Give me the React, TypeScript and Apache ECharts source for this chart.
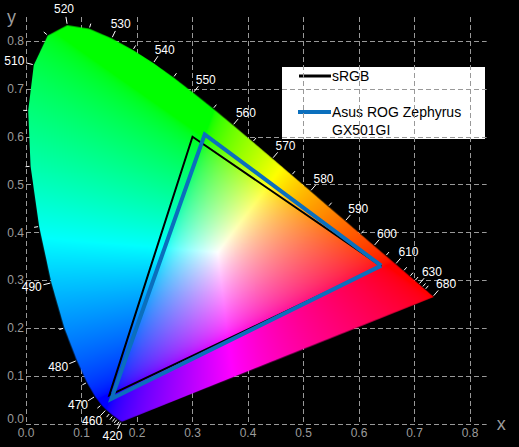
import React, { useEffect, useRef } from 'react';
import * as echarts from 'echarts';

// CIE 1931 2° spectral locus (chromaticity x, y) every 5 nm
const WAVELENGTHS = [
  380, 385, 390, 395, 400, 405, 410, 415, 420, 425, 430, 435, 440, 445, 450, 455, 460, 465, 470, 475,
  480, 485, 490, 495, 500, 505, 510, 515, 520, 525, 530, 535, 540, 545, 550, 555, 560, 565, 570, 575,
  580, 585, 590, 595, 600, 605, 610, 615, 620, 625, 630, 635, 640, 645, 650, 655, 660, 665, 670, 675,
  680, 685, 690, 695, 700,
];
const LOCUS_X = [
  0.1741, 0.1740, 0.1738, 0.1736, 0.1733, 0.1730, 0.1726, 0.1721, 0.1714, 0.1703, 0.1689, 0.1669, 0.1644, 0.1611, 0.1566, 0.1510, 0.1440, 0.1355, 0.1241, 0.1096,
  0.0913, 0.0687, 0.0454, 0.0235, 0.0082, 0.0039, 0.0139, 0.0389, 0.0743, 0.1142, 0.1547, 0.1929, 0.2296, 0.2658, 0.3016, 0.3373, 0.3731, 0.4087, 0.4441, 0.4788,
  0.5125, 0.5448, 0.5752, 0.6029, 0.6270, 0.6482, 0.6658, 0.6801, 0.6915, 0.7006, 0.7079, 0.7140, 0.7190, 0.7230, 0.7260, 0.7283, 0.7300, 0.7311, 0.7320, 0.7327,
  0.7334, 0.7340, 0.7344, 0.7346, 0.7347,
];
const LOCUS_Y = [
  0.0050, 0.0050, 0.0049, 0.0049, 0.0048, 0.0048, 0.0048, 0.0048, 0.0051, 0.0058, 0.0069, 0.0086, 0.0109, 0.0138, 0.0177, 0.0227, 0.0297, 0.0399, 0.0578, 0.0868,
  0.1327, 0.2007, 0.2950, 0.4127, 0.5384, 0.6548, 0.7502, 0.8120, 0.8338, 0.8262, 0.8059, 0.7816, 0.7543, 0.7243, 0.6923, 0.6589, 0.6245, 0.5896, 0.5547, 0.5202,
  0.4866, 0.4544, 0.4242, 0.3965, 0.3725, 0.3514, 0.3340, 0.3197, 0.3083, 0.2993, 0.2920, 0.2859, 0.2809, 0.2770, 0.2740, 0.2717, 0.2700, 0.2689, 0.2680, 0.2673,
  0.2666, 0.2660, 0.2656, 0.2654, 0.2653,
];
const LABELED_WAVELENGTHS = [420, 460, 470, 480, 490, 510, 520, 530, 540, 550, 560, 570, 580, 590, 600, 610, 630, 680];
const TICK_WAVELENGTHS = [
  420, 430, 440, 445, 450, 455, 460, 465, 470, 475, 480, 485, 490, 495, 500, 505, 510, 515, 520, 525,
  530, 535, 540, 545, 550, 555, 560, 565, 570, 575, 580, 585, 590, 595, 600, 605, 610, 615, 620, 625,
  630, 635, 640, 680,
];

// Gamut triangles: red, green, blue primaries
const SRGB_X = [0.64, 0.30, 0.15];
const SRGB_Y = [0.33, 0.60, 0.06];
const ASUS_X = [0.640, 0.322, 0.154];
const ASUS_Y = [0.331, 0.605, 0.053];

const SERIES_NAMES = ['sRGB', 'Asus ROG Zephyrus GX501GI'];

const X_MAX = 0.83;
const Y_MAX = 0.85;
const IMG_X_MAX = 0.75;
const IMG_Y_MAX = 0.85;

function closed(xs: number[], ys: number[]) {
  const pts = xs.map((x, i) => [x, ys[i]]);
  pts.push([xs[0], ys[0]]);
  return pts;
}

function encode(c: number) {
  return Math.pow(c, 1 / 1.8);
}

function buildGamutImage(): string {
  const w = 840;
  const h = 820;
  const cv = document.createElement('canvas');
  cv.width = w;
  cv.height = h;
  const ctx = cv.getContext('2d')!;
  const img = ctx.createImageData(w, h);
  const d = img.data;
  for (let j = 0; j < h; j++) {
    const y = IMG_Y_MAX * (1 - (j + 0.5) / h);
    for (let i = 0; i < w; i++) {
      const x = IMG_X_MAX * ((i + 0.5) / w);
      const X = x / y;
      const Y = 1;
      const Z = (1 - x - y) / y;
      // XYZ (D50-adapted) -> linear sRGB
      let r = 3.1338561 * X - 1.6168667 * Y - 0.4906146 * Z;
      let g = -0.9787684 * X + 1.9161415 * Y + 0.033454 * Z;
      let b = 0.0719453 * X - 0.2289914 * Y + 1.4052427 * Z;
      r = Math.max(0, r);
      g = Math.max(0, g);
      b = Math.max(0, b);
      const m = Math.max(r, g, b) || 1;
      const k = (j * w + i) * 4;
      d[k] = Math.round(255 * encode(r / m));
      d[k + 1] = Math.round(255 * encode(g / m));
      d[k + 2] = Math.round(255 * encode(b / m));
      d[k + 3] = 255;
    }
  }
  ctx.putImageData(img, 0, 0);
  ctx.globalCompositeOperation = 'destination-in';
  ctx.beginPath();
  LOCUS_X.forEach((lx, k) => {
    const px = (lx / IMG_X_MAX) * w;
    const py = (1 - LOCUS_Y[k] / IMG_Y_MAX) * h;
    if (k === 0) ctx.moveTo(px, py);
    else ctx.lineTo(px, py);
  });
  ctx.closePath();
  ctx.fillStyle = '#000';
  ctx.fill();
  return cv.toDataURL();
}

const FONT = '"Liberation Sans", Arial, sans-serif';
const AXIS_GRAY = '#9c9c9c';

export default function App() {
  const ref = useRef<HTMLDivElement>(null);

  useEffect(() => {
    document.body.style.margin = '0';
    document.body.style.background = '#000';
    if (!ref.current) return;
    const chart = echarts.init(ref.current, null, { renderer: 'svg' });
    const imageUrl = buildGamutImage();

    const n = WAVELENGTHS.length;
    const tickData = TICK_WAVELENGTHS.map((wl) => {
      const k = WAVELENGTHS.indexOf(wl);
      const a = Math.max(0, k - 1);
      const b = Math.min(n - 1, k + 1);
      return [LOCUS_X[k], LOCUS_Y[k], LOCUS_X[a], LOCUS_Y[a], LOCUS_X[b], LOCUS_Y[b], wl];
    });

    const gridLine = { show: true, showMaxLine: false, lineStyle: { color: '#999999', type: [5, 3] as any, width: 1 } };

    chart.setOption({
      animation: false,
      backgroundColor: '#000',
      grid: { left: 26, top: 17, width: X_MAX * 555, height: Y_MAX * 479 },
      xAxis: {
        type: 'value',
        min: 0,
        max: X_MAX,
        interval: 0.1,
        name: 'x',
        nameLocation: 'end',
        nameGap: 10,
        nameTextStyle: { color: AXIS_GRAY, fontSize: 18, fontFamily: FONT, padding: [8, 0, 0, 0] },
        axisLine: { show: false },
        axisTick: { show: false },
        splitLine: gridLine,
        axisLabel: {
          color: AXIS_GRAY,
          fontSize: 12,
          fontFamily: FONT,
          margin: 3,
          showMaxLabel: false,
          formatter: (v: number) => v.toFixed(1),
        },
      },
      yAxis: {
        type: 'value',
        min: 0,
        max: Y_MAX,
        interval: 0.1,
        name: 'y',
        nameLocation: 'end',
        nameGap: 0,
        nameTextStyle: { color: AXIS_GRAY, fontSize: 18, fontFamily: FONT, align: 'right', verticalAlign: 'middle', padding: [0, 10, 0, 0] },
        axisLine: { show: false },
        axisTick: { show: false },
        splitLine: gridLine,
        axisLabel: {
          color: AXIS_GRAY,
          fontSize: 12,
          fontFamily: FONT,
          margin: 2,
          showMaxLabel: false,
          formatter: (v: number) => (v === 0 ? '{low|0.0}' : v.toFixed(1)),
          rich: { low: { color: AXIS_GRAY, fontSize: 12, fontFamily: FONT, padding: [0, 0, 10, 0] } },
        },
      },
      series: [
        {
          type: 'custom',
          name: 'locus',
          silent: true,
          z: 1,
          clip: false,
          data: [[0, IMG_Y_MAX]],
          renderItem: (_p: any, api: any) => {
            const tl = api.coord([0, IMG_Y_MAX]);
            const br = api.coord([IMG_X_MAX, 0]);
            return {
              type: 'image',
              style: { image: imageUrl, x: tl[0], y: tl[1], width: br[0] - tl[0], height: br[1] - tl[1] },
            };
          },
        },
        {
          type: 'custom',
          name: 'wavelengths',
          silent: true,
          z: 2,
          clip: false,
          data: tickData,
          renderItem: (_p: any, api: any) => {
            const p = api.coord([api.value(0), api.value(1)]);
            const a = api.coord([api.value(2), api.value(3)]);
            const b = api.coord([api.value(4), api.value(5)]);
            const wl = api.value(6);
            let tx = b[0] - a[0];
            let ty = b[1] - a[1];
            const len = Math.hypot(tx, ty) || 1;
            tx /= len;
            ty /= len;
            const nx = ty;
            const ny = -tx;
            const labeled = LABELED_WAVELENGTHS.indexOf(wl) >= 0;
            const L = labeled ? 8 : 5;
            const children: any[] = [
              {
                type: 'line',
                shape: { x1: p[0] + nx, y1: p[1] + ny, x2: p[0] + nx * L, y2: p[1] + ny * L },
                style: { stroke: '#fff', lineWidth: 1 },
              },
            ];
            if (labeled) {
              children.push({
                type: 'text',
                x: p[0] + nx * L + nx * 12,
                y: p[1] + ny * L + ny * 8,
                style: {
                  text: String(wl),
                  fill: '#fff',
                  font: `12px ${FONT}`,
                  align: 'center',
                  verticalAlign: 'middle',
                },
              });
            }
            return { type: 'group', children };
          },
        },
        {
          type: 'line',
          name: SERIES_NAMES[0],
          data: closed(SRGB_X, SRGB_Y),
          symbol: 'none',
          z: 3,
          lineStyle: { color: '#000', width: 2, join: 'miter' },
        },
        {
          type: 'line',
          name: SERIES_NAMES[1],
          data: closed(ASUS_X, ASUS_Y),
          symbol: 'none',
          z: 4,
          lineStyle: { color: '#0b6fbd', width: 4, join: 'miter' },
        },
      ],
      graphic: [
        {
          type: 'group',
          left: 282,
          top: 67,
          z: 100,
          children: [
            { type: 'rect', shape: { x: 0, y: 0, width: 203, height: 72 }, style: { fill: '#fff' } },
            { type: 'line', shape: { x1: 17, y1: 9, x2: 49, y2: 9 }, style: { stroke: '#000', lineWidth: 3 } },
            {
              type: 'text',
              x: 50,
              y: 9,
              style: { text: SERIES_NAMES[0], fill: '#000', font: `14px ${FONT}`, verticalAlign: 'middle' },
            },
            { type: 'line', shape: { x1: 16, y1: 45, x2: 49, y2: 45 }, style: { stroke: '#0b6fbd', lineWidth: 4 } },
            {
              type: 'text',
              x: 50,
              y: 45,
              style: { text: 'Asus ROG Zephyrus', fill: '#000', font: `14px ${FONT}`, verticalAlign: 'middle' },
            },
            {
              type: 'text',
              x: 50,
              y: 63,
              style: { text: 'GX501GI', fill: '#000', font: `14px ${FONT}`, verticalAlign: 'middle' },
            },
          ],
        },
      ],
    });

    return () => chart.dispose();
  }, []);

  return <div ref={ref} style={{ width: 519, height: 447, background: '#000' }} />;
}
